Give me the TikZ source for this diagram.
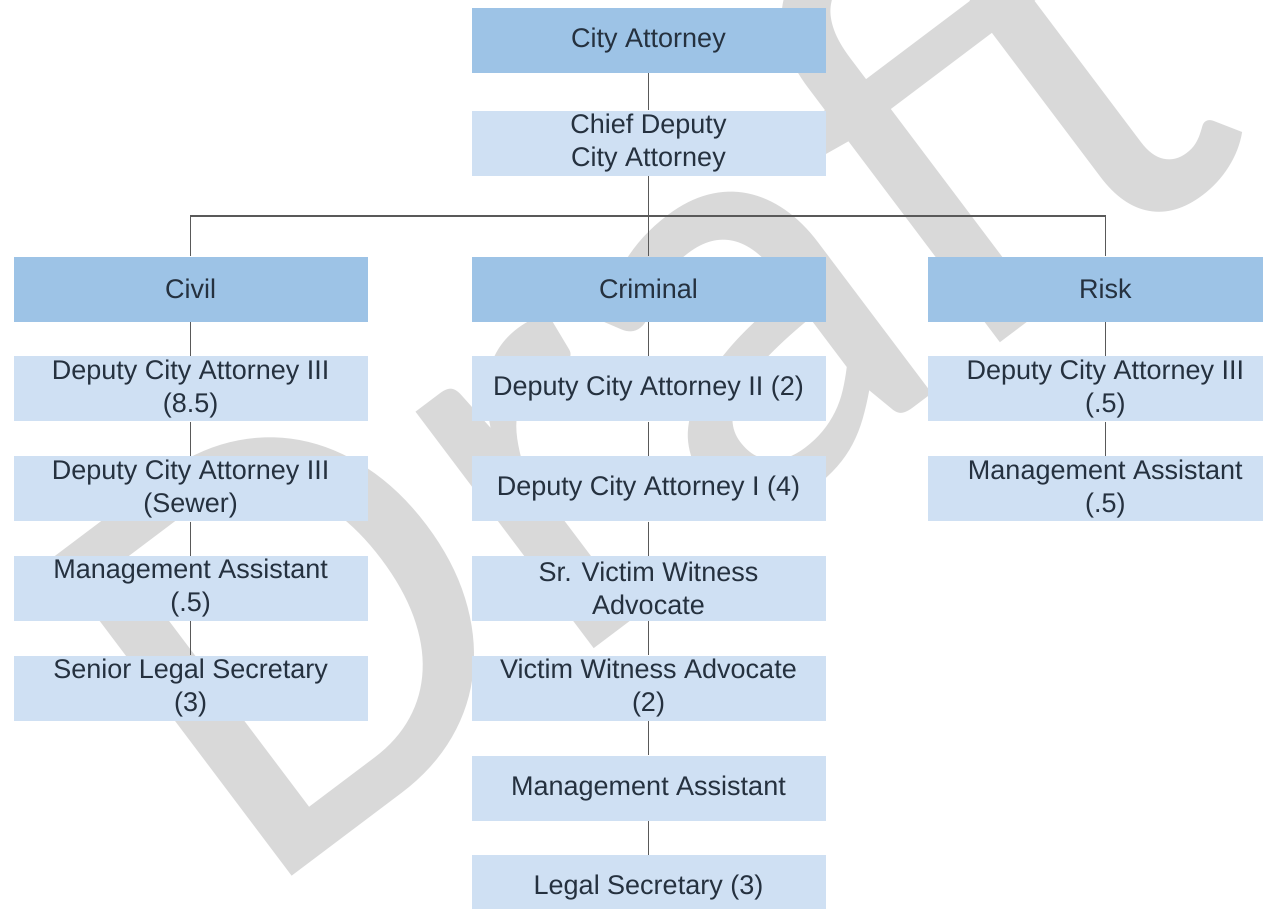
\documentclass[tikz,border=0pt]{standalone}
\usepackage{fontspec}
\setmainfont{Liberation Sans}
\newfontfamily\wmfont{Carlito}
\usepackage{tikz}
\usetikzlibrary{positioning}
\definecolor{deptblue}{HTML}{9DC3E6}
\definecolor{staffblue}{HTML}{CFE0F3}
\definecolor{inkblue}{HTML}{25313F}
\definecolor{wmgray}{HTML}{D9D9D9}
\definecolor{linegray}{HTML}{595959}
\tikzset{base node/.style={rectangle,minimum width=177pt,minimum height=32.5pt,inner sep=0pt,align=center,text=inkblue,font=\fontsize{13.5}{16.5}\selectfont},
  head node/.style={base node,fill=deptblue},
  staff node/.style={base node,fill=staffblue},
  link/.style={draw=linegray,line width=0.7pt},}

\begin{document}
\begin{tikzpicture}[x=0.5pt, y=-0.5pt, node distance=17pt]
	\useasboundingbox (0,0) rectangle (1263,909);
	\clip (0,0) rectangle (1263,909);
	\fill[white] (0,0) rectangle (1263,909);

	% watermark
	\node[text=wmgray, font=\wmfont\fontsize{310}{310}\selectfont, rotate=37, anchor=base west, inner sep=0pt] (draft) at (258,902) {Draft};

	\node[head node] (city) at (648.5,40.5) {City Attorney};
	\node[staff node] (chief) [below = 18.5pt of city] {Chief Deputy\\City Attorney};
	\coordinate [below = 20pt of chief] (bus);
	\node[head node] (crim) [below = 40pt of chief] {Criminal};
	\node[head node] (civil) [left = 51.5pt of crim] {Civil};
	\node[head node] (risk) [right = 51pt of crim] {Risk};

	% civil
	\node[staff node] (civ1) [below = of civil] {Deputy City Attorney III\\(8.5)};
	\node[staff node] (civ2) [below = of civ1] {Deputy City Attorney III\\(Sewer)};
	\node[staff node] (civ3) [below = of civ2] {Management Assistant\\(.5)};
	\node[staff node] (civ4) [below = of civ3] {Senior Legal Secretary\\(3)};

	% criminal
	\node[staff node] (crim1) [below = of crim] {Deputy City Attorney II (2)};
	\node[staff node] (crim2) [below = of crim1] {Deputy City Attorney I (4)};
	\node[staff node] (crim3) [below = of crim2] {Sr. Victim Witness\\Advocate};
	\node[staff node] (crim4) [below = of crim3] {Victim Witness Advocate\\(2)};
	\node[staff node] (crim5) [below = of crim4] {Management Assistant};
	\node[staff node] (crim6) [below = of crim5] {Legal Secretary (3)};

	% risk
	\node[staff node] (risk1) [below = of risk] {Deputy City Attorney III\\(.5)};
	\node[staff node] (risk2) [below = of risk1] {Management Assistant\\(.5)};

	\draw[link] (chief) -- (bus);
	\draw[link] (civil.north) |- (bus) -| (risk.north);
	\draw[link] (bus) -- (crim);

	\path[link]
	(city) edge (chief)
	(civil) edge (civ1)
	(civ1) edge (civ2)
	(civ2) edge (civ3)
	(civ3) edge (civ4)
	(crim) edge (crim1)
	(crim1) edge (crim2)
	(crim2) edge (crim3)
	(crim3) edge (crim4)
	(crim4) edge (crim5)
	(crim5) edge (crim6)
	(risk) edge (risk1)
	(risk1) edge (risk2);
\end{tikzpicture}
\end{document}
